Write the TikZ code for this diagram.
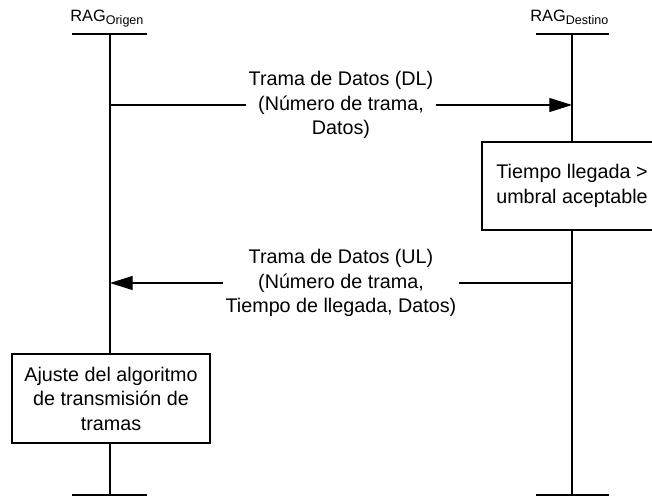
\documentclass[tikz,border=0pt]{standalone}
\usepackage{fontspec}
\setmainfont{Liberation Sans}
\usetikzlibrary{arrows.meta}
\begin{document}
\begin{tikzpicture}[x=0.75pt,y=0.75pt,
  ln/.style={line width=0.8pt},
  msg/.style={ln,-{Triangle[length=17pt,width=10.5pt]}},
  txt/.style={font=\fontsize{14.8}{18.4}\selectfont},
  lbl/.style={txt,fill=white,align=center,inner xsep=2pt,inner ysep=0pt},
  actbox/.style={txt,draw,ln,fill=white,align=center,inner sep=0pt},
  head/.style={anchor=base west,inner sep=0pt,font=\fontsize{12.3}{14}\selectfont},
]
\useasboundingbox (0,0) rectangle (652,-499);
\clip (0,0) rectangle (652,-499);
% lifeline coordinates
\coordinate (oT) at (110,-34);
\coordinate (oB) at (110,-495);
\coordinate (dT) at (572,-34);
\coordinate (dB) at (572,-495);
\coordinate (oTl) at (72,-34);  \coordinate (oTr) at (147,-34);
\coordinate (oBl) at (72,-495); \coordinate (oBr) at (147,-495);
\coordinate (dTl) at (536,-34); \coordinate (dTr) at (609,-34);
\coordinate (dBl) at (536,-495); \coordinate (dBr) at (609,-495);
% headers
\node[head] (hO) at (70,-22) {RAG\raisebox{-2.2pt}{\fontsize{9.4}{10}\selectfont Origen}};
\node[head] (hD) at (530,-22) {RAG\raisebox{-2.2pt}{\fontsize{9.4}{10}\selectfont Destino}};
% lifelines and bars
\draw[ln] (oT) -- (oB);
\draw[ln] (dT) -- (dB);
\draw[ln] (oTl) -- (oTr);
\draw[ln] (oBl) -- (oBr);
\draw[ln] (dTl) -- (dTr);
\draw[ln] (dBl) -- (dBr);
% messages
\coordinate (m1s) at (110,-105);
\coordinate (m1e) at (572,-105);
\coordinate (m2s) at (572,-283);
\coordinate (m2e) at (110,-283);
\draw[msg] (m1s) -- node[lbl] (l1) {Trama de Datos (DL)\\(Número de trama,\\Datos)} (m1e);
\draw[msg] (m2s) -- node[lbl] (l2) {Trama de Datos (UL)\\(Número de trama,\\Tiempo de llegada, Datos)} (m2e);
% action boxes
\node[actbox,minimum width=135pt,minimum height=66pt] (b1) at (572,-186) {Tiempo llegada >\\umbral aceptable};
\node[actbox,minimum width=148.5pt,minimum height=66.75pt] (b2) at (111,-398.5) {Ajuste del algoritmo\\de transmisión de\\tramas};
\end{tikzpicture}
\end{document}
